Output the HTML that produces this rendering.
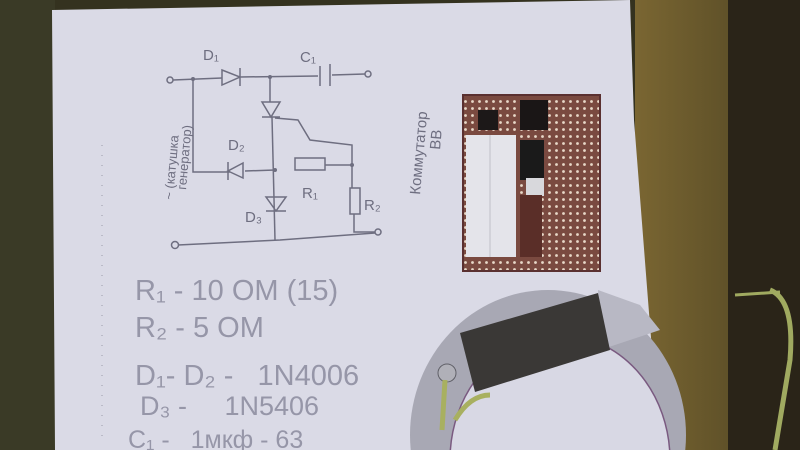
<!DOCTYPE html>
<html><head><meta charset="utf-8"><style>
html,body{margin:0;padding:0;width:800px;height:450px;overflow:hidden;background:#2f2c1e}
svg{display:block;position:absolute;left:0;top:0}
text{font-family:"Liberation Sans","DejaVu Sans",sans-serif}
</style></head><body>
<svg width="800" height="450" viewBox="0 0 800 450">
<defs>
<pattern id="holes" width="7" height="7" patternUnits="userSpaceOnUse"><rect width="7" height="7" fill="#7a4a40"/><circle cx="3.5" cy="3.5" r="1.4" fill="#e8d8c8"/></pattern>
<linearGradient id="wood" x1="0" x2="1"><stop offset="0" stop-color="#7a6632"/><stop offset="1" stop-color="#5e5028"/></linearGradient>
</defs>
<rect width="800" height="450" fill="#34321f"/>
<rect x="0" y="0" width="55" height="450" fill="#3a3a26"/>
<rect x="635" y="0" width="100" height="450" fill="url(#wood)"/>
<rect x="728" y="0" width="72" height="450" fill="#2a2418"/>
<!-- paper -->
<polygon points="52,10 630,0 634,120 648,300 660,450 55,450" fill="#dadae6"/>
<!-- dashed line -->
<line x1="102" y1="145" x2="102" y2="440" stroke="#9a9aa8" stroke-width="1" stroke-dasharray="1,9"/>
<!-- circuit -->
<g stroke="#6e6e80" stroke-width="1.5" fill="none">
<circle cx="170" cy="80" r="3"/><circle cx="368" cy="74" r="3"/><circle cx="378" cy="232" r="3"/><circle cx="175" cy="245" r="3.5"/>
<path d="M173 80 L222 78 M240 77 L318 76 M332 75 L365 74"/>
<path d="M222 70 L240 77 L222 85 Z M240 68 L240 86"/>
<path d="M320 66 L320 86 M330 64 L330 86"/>
<path d="M193 79 L193 172 L230 172 M245 171 L275 170"/>
<path d="M243 163 L228 171 L243 178 Z M228 162 L228 180"/>
<path d="M270 77 L270 102 M262 102 L280 102 L271 117 Z M262 117 L280 117"/>
<path d="M275 118 L298 120 L310 140 L352 145 L352 165"/>
<path d="M272 117 L275 240"/>
<rect x="295" y="158" width="30" height="12"/><path d="M325 165 L352 165 L352 188"/>
<rect x="350" y="188" width="10" height="26"/><path d="M354 214 L354 232 L375 232"/>
<path d="M266 197 L286 197 L276 211 Z M266 211 L286 211"/>
<path d="M178 245 L280 240 L375 233"/>
</g>
<g fill="#6e6e80"><circle cx="193" cy="79" r="2"/><circle cx="270" cy="77" r="2"/><circle cx="275" cy="170" r="2"/><circle cx="352" cy="165" r="2"/></g>
<g fill="#6e6e80" font-size="15">
<text x="203" y="60">D₁</text><text x="300" y="62">C₁</text><text x="228" y="150">D₂</text>
<text x="302" y="198">R₁</text><text x="364" y="210">R₂</text><text x="245" y="222">D₃</text>
<text transform="translate(173,200) rotate(-85)" font-size="13">~ (катушка</text>
<text transform="translate(186,190) rotate(-85)" font-size="13">генератор)</text>
<text transform="translate(420,195) rotate(-85)" font-size="15">Коммутатор</text>
<text transform="translate(440,150) rotate(-85)" font-size="15">ВВ</text>
</g>
<g fill="#9696a8" font-size="29">
<text x="135" y="300">R₁ - 10 OM (15)</text>
<text x="135" y="337">R₂ - 5 OM</text>
<text x="135" y="385">D₁- D₂ -&#160;&#160;&#160;1N4006</text>
<text x="140" y="415" font-size="27">D₃ -&#160;&#160;&#160;&#160;&#160;1N5406</text>
<text x="128" y="448" font-size="25">C₁ -&#160;&#160;&#160;1мкф - 63</text>
</g>
<!-- board -->
<rect x="463" y="95" width="137" height="176" fill="url(#holes)"/>
<rect x="463" y="95" width="137" height="176" fill="none" stroke="#5a3030" stroke-width="2"/>
<rect x="478" y="110" width="20" height="20" fill="#1c1818"/>
<rect x="520" y="100" width="28" height="30" fill="#1a1616"/>
<rect x="520" y="140" width="24" height="40" fill="#1a1a1a"/>
<rect x="526" y="178" width="18" height="18" fill="#d8d8dc"/>
<rect x="520" y="195" width="22" height="62" fill="#5a2e28"/>
<rect x="466" y="135" width="50" height="122" fill="#e4e4ea"/>
<line x1="490" y1="135" x2="490" y2="257" stroke="#c0c0c8"/>
<!-- ring -->
<ellipse cx="548" cy="435" rx="138" ry="145" fill="#a8a8b4"/>
<ellipse cx="560" cy="460" rx="110" ry="125" fill="#d8d8e4" stroke="#7a5a80" stroke-width="1.5"/>
<polygon points="598,290 640,305 660,330 600,350" fill="#b8b8c4"/>
<polygon points="460,333 598,293 610,350 475,392" fill="#3a3836"/>
<circle cx="447" cy="373" r="9" fill="#b0b0b8" stroke="#606068"/>
<path d="M445 380 L442 430 M455 420 Q470 395 490 395" stroke="#a8b060" stroke-width="5" fill="none"/>
<path d="M770 290 Q795 300 790 360 L775 450" stroke="#a0aa60" stroke-width="5" fill="none"/>
<path d="M735 295 L780 292" stroke="#a0aa60" stroke-width="3" fill="none"/>
</svg>
</body></html>
